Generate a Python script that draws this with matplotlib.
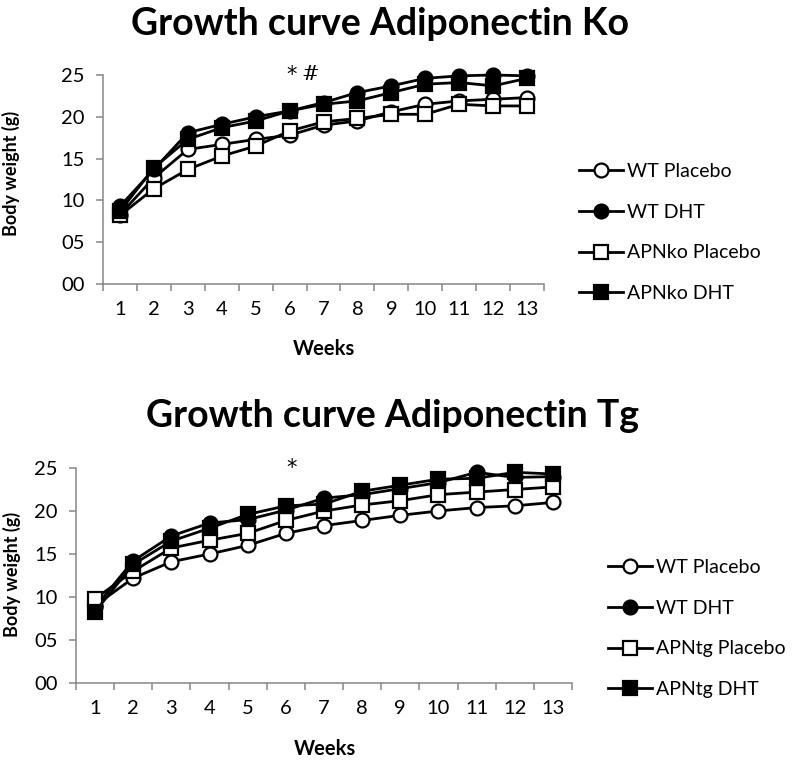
import matplotlib
matplotlib.use("Agg")
import matplotlib.pyplot as plt
import numpy as np

plt.rcParams['font.family'] = ['Lato', 'DejaVu Sans']

weeks = list(range(1, 14))

# Adiponectin Ko panel
ko_labels = ['WT Placebo', 'WT DHT', 'APNko Placebo', 'APNko DHT']
ko_wt_placebo = [8.3, 12.7, 16.1, 16.7, 17.3, 17.8, 19.0, 19.5, 20.6, 21.5, 21.9, 22.1, 22.3]
ko_wt_dht = [9.3, 13.7, 18.1, 19.1, 20.0, 20.7, 21.7, 22.9, 23.7, 24.6, 24.9, 25.0, 24.9]
ko_apn_placebo = [8.2, 11.4, 13.7, 15.3, 16.5, 18.3, 19.4, 19.8, 20.3, 20.3, 21.5, 21.3, 21.3]
ko_apn_dht = [8.7, 13.9, 17.3, 18.7, 19.5, 20.7, 21.5, 21.9, 22.9, 23.9, 24.1, 23.7, 24.6]

# Adiponectin Tg panel
tg_labels = ['WT Placebo', 'WT DHT', 'APNtg Placebo', 'APNtg DHT']
tg_wt_placebo = [9.0, 12.2, 14.1, 15.0, 16.0, 17.4, 18.3, 18.9, 19.5, 20.0, 20.4, 20.6, 21.0]
tg_wt_dht = [8.8, 14.2, 17.1, 18.6, 19.0, 20.1, 21.5, 21.9, 22.6, 23.3, 24.5, 23.9, 24.0]
tg_apn_placebo = [9.8, 13.0, 15.7, 16.6, 17.4, 18.9, 20.0, 20.7, 21.2, 21.9, 22.2, 22.5, 22.8]
tg_apn_dht = [8.3, 13.8, 16.5, 18.0, 19.6, 20.6, 20.8, 22.3, 23.0, 23.7, 23.8, 24.5, 24.3]

styles = [('o', 'white'), ('o', 'black'), ('s', 'white'), ('s', 'black')]
GRAY = '#868686'
W, H = 793, 761

fig = plt.figure(figsize=(W / 100, H / 100), dpi=100)


def panel(rect, series, labels, title, title_xy, ylab_xy, xlab_xy, leg_xy, notes):
    ax = fig.add_axes(rect)
    for vals, lab, (m, fc) in zip(series, labels, styles):
        ax.plot(weeks, vals, color='black', lw=2, marker=m, ms=10,
                mfc=fc, mec='black', mew=1.6, label=lab, clip_on=False)
    ax.set_xlim(0.5, 13.5)
    ax.set_ylim(0, 25)
    ax.set_yticks(range(0, 26, 5))
    ax.set_yticklabels(['%02d' % v for v in range(0, 26, 5)])
    ax.set_xticks(np.arange(0.5, 14, 1))
    ax.set_xticklabels([])
    ax.set_xticks(weeks, minor=True)
    ax.set_xticklabels([str(w) for w in weeks], minor=True)
    ax.tick_params(axis='x', which='major', direction='out', length=5, width=1.1, color=GRAY)
    ax.tick_params(axis='x', which='minor', length=0, pad=12, labelsize=14.5)
    ax.tick_params(axis='y', direction='out', length=5, width=1.1, color=GRAY, pad=8, labelsize=14.5)
    for s in ['top', 'right']:
        ax.spines[s].set_visible(False)
    for s in ['left', 'bottom']:
        ax.spines[s].set_color(GRAY)
        ax.spines[s].set_linewidth(1.1)
    fig.text(title_xy[0] / W, 1 - title_xy[1] / H, title, ha='center', va='baseline',
             fontsize=27, fontweight='bold')
    fig.text(ylab_xy[0] / W, 1 - ylab_xy[1] / H, 'Body weight (g)', rotation=90,
             ha='center', va='center', fontsize=13, fontweight='bold')
    fig.text(xlab_xy[0] / W, 1 - xlab_xy[1] / H, 'Weeks', ha='center', va='baseline',
             fontsize=14.5, fontweight='bold')
    for x, y, t, fam in notes:
        ax.text(x, y, t, ha='center', va='center', fontsize=15, family=fam, clip_on=False)
    ax.legend(loc='upper left', bbox_to_anchor=(leg_xy[0] / W, 1 - leg_xy[1] / H),
              bbox_transform=fig.transFigure, frameon=False, fontsize=14,
              borderpad=0, borderaxespad=0, handlelength=2.25, handletextpad=0.22,
              labelspacing=1.22)
    return ax


panel([103 / W, 1 - 284 / H, 441 / W, 209 / H],
      [ko_wt_placebo, ko_wt_dht, ko_apn_placebo, ko_apn_dht], ko_labels,
      'Growth curve Adiponectin Ko', (380, 35), (11, 173), (324, 355), (579, 163),
      [(6.05, 25.0, '*', 'DejaVu Sans'), (6.6, 25.0, '#', 'DejaVu Serif')])

panel([76 / W, 1 - 683 / H, 496 / W, 215 / H],
      [tg_wt_placebo, tg_wt_dht, tg_apn_placebo, tg_apn_dht], tg_labels,
      'Growth curve Adiponectin Tg', (392, 427), (12, 574), (325, 755), (608, 559),
      [(6.15, 25.0, '*', 'DejaVu Sans')])

fig.savefig('out.png', dpi=100)
